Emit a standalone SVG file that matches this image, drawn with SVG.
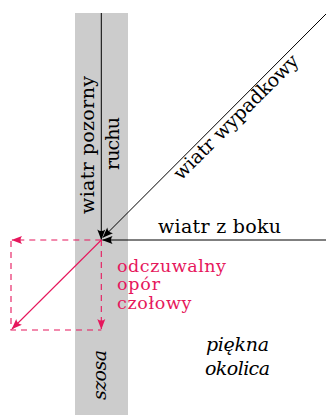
<svg xmlns="http://www.w3.org/2000/svg" width="326" height="415" viewBox="0 0 326 415">
<style>
.t{font-family:"DejaVu Serif","Liberation Serif",serif;font-size:19px;fill:#000}
.i{font-style:italic}
.p{fill:#e6175c;font-size:17.5px}
.k{stroke:#000;stroke-width:1;fill:none}
.pk{stroke:#e6175c;stroke-width:1.1;fill:none}
.d{stroke-dasharray:6 5}
</style>
<defs>
<marker id="ab" viewBox="-11 -5 12 10" refX="0" refY="0" markerWidth="12" markerHeight="10" markerUnits="userSpaceOnUse" orient="auto">
<path d="M0.5,0 L-10,-4 Q-7,0 -10,4 Z" fill="#000"/>
</marker>
<marker id="ap" viewBox="-11 -5 12 10" refX="0" refY="0" markerWidth="12" markerHeight="10" markerUnits="userSpaceOnUse" orient="auto">
<path d="M0.5,0 L-10,-4 Q-7,0 -10,4 Z" fill="#e6175c"/>
</marker>
</defs>
<g id="road">
<rect x="75" y="13" width="53" height="402" fill="#cccccc"/>
<text class="t i" font-size="18" transform="translate(106,375) rotate(-90)" text-anchor="middle" textLength="50">szosa</text>
</g>
<g id="connectors">
<path class="k" d="M101.3,13 V239.5" marker-end="url(#ab)"/>
<path class="k" d="M326,14 L103,237.5" marker-end="url(#ab)"/>
<path class="k" d="M326,240 H102.5" marker-end="url(#ab)"/>
<path class="pk d" d="M101.3,240 H12" marker-end="url(#ap)"/>
<path class="pk d" d="M101.3,240 V329" marker-end="url(#ap)"/>
<path class="pk d" d="M11,241 V330 H101.3"/>
<path class="pk" d="M101.3,240 L12,329" marker-end="url(#ap)"/>
</g>
<g id="apparent">
<text class="t" transform="translate(93.5,145) rotate(-90)" text-anchor="middle" textLength="138">wiatr pozorny</text>
<text class="t" transform="translate(118.5,143.5) rotate(-90)" text-anchor="middle" textLength="53">ruchu</text>
</g>
<g id="resultant">
<text class="t" transform="translate(240.5,121.5) rotate(-45)" text-anchor="middle" textLength="168">wiatr wypadkowy</text>
</g>
<g id="crosswind">
<text class="t" x="158" y="233" textLength="123">wiatr z boku</text>
</g>
<g id="drag">
<text class="t p" x="117" y="271.5" textLength="109">odczuwalny</text>
<text class="t p" x="117" y="290" textLength="43">opór</text>
<text class="t p" x="117" y="309" textLength="74.5">czołowy</text>
</g>
<g id="scenery">
<text class="t i" x="237.5" y="350.5" text-anchor="middle" textLength="63">piękna</text>
<text class="t i" x="237.5" y="375" text-anchor="middle" textLength="65">okolica</text>
</g>
</svg>
